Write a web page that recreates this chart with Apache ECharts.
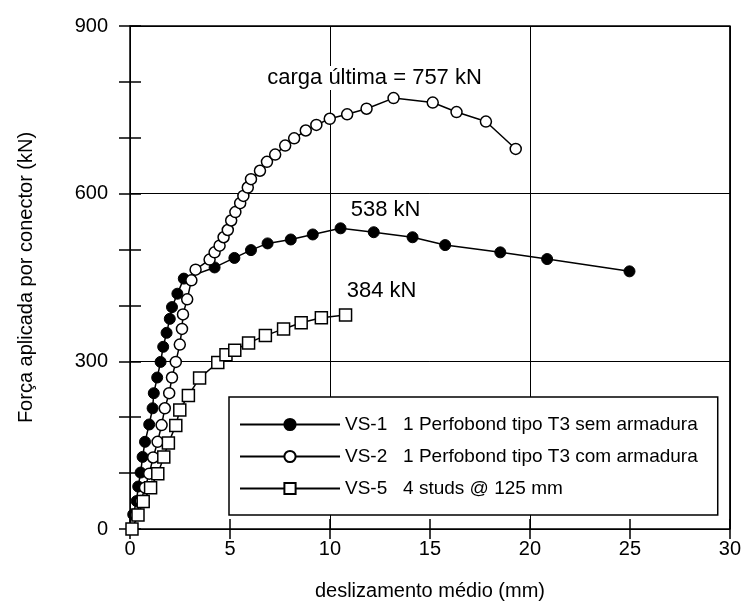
<!DOCTYPE html>
<html>
<head>
<meta charset="utf-8">
<script src="https://cdn.jsdelivr.net/npm/echarts@6/dist/echarts.min.js"></script>
<style>
html,body{margin:0;padding:0;background:#fff;}
#c{width:744px;height:612px;}
</style>
</head>
<body>
<div id="c"></div>
<script>
// Slip (mm) and load (kN)
const vs1Slip = [0.16,0.33,0.41,0.53,0.63,0.75,0.96,1.13,1.19,1.36,1.53,1.66,1.83,1.99,2.10,2.37,2.69,4.23,5.22,6.05,6.88,8.04,9.14,10.53,12.19,14.13,15.76,18.52,20.86,24.98];
const vs1Load = [26,50,76,101,129,156,187,216,243,271,299,326,351,376,397,421,448,468,485,499,511,518,527,538,531,522,508,495,483,461];

const vs2Slip = [0.30,0.55,0.75,0.96,1.16,1.38,1.58,1.74,1.96,2.10,2.29,2.49,2.60,2.65,2.86,3.07,3.28,3.98,4.23,4.48,4.68,4.89,5.06,5.27,5.51,5.67,5.89,6.05,6.50,6.85,7.26,7.76,8.21,8.79,9.32,9.99,10.86,11.83,13.18,15.14,16.33,17.80,19.29];
const vs2Load = [25,50,74,99,128,156,186,216,243,271,299,330,358,384,411,445,464,482,495,507,522,535,552,567,583,596,611,626,641,657,670,686,699,713,723,734,742,752,771,763,746,729,680];

const vs5Slip = [0.10,0.40,0.66,1.03,1.39,1.69,1.92,2.29,2.49,2.92,3.48,4.39,4.80,5.24,5.93,6.77,7.68,8.56,9.57,10.78];
const vs5Load = [0,25,49,74,99,129,154,185,213,239,270,298,312,320,333,346,358,369,378,383];

const seriesNames = ['VS-1','VS-2','VS-5'];
const legendTexts = {
  'VS-1':'VS-1   1 Perfobond tipo T3 sem armadura',
  'VS-2':'VS-2   1 Perfobond tipo T3 com armadura',
  'VS-5':'VS-5   4 studs @ 125 mm'
};
const annotations = ['538 kN','carga última = 757 kN','384 kN'];
const xTitle = 'deslizamento médio (mm)';
const yTitle = 'Força aplicada por conector (kN)';

const pairs = (xs, ys) => xs.map((x,i)=>[x, ys[i]]);
const peakIndex = ys => ys.indexOf(Math.max(...ys));

const FONT = '"Liberation Sans", Arial, sans-serif';
const baseY = {type:'value', min:0, max:900, gridIndex:0};
const baseX = {type:'value', min:0, max:30, gridIndex:0};

const chart = echarts.init(document.getElementById('c'), null, {renderer:'canvas'});
const v1 = pairs(vs1Slip, vs1Load), v2 = pairs(vs2Slip, vs2Load), v5 = pairs(vs5Slip, vs5Load);

function mk(coord, text, offset, bg){
  return {
    silent:true, animation:false,
    symbol:'circle', symbolSize:1,
    itemStyle:{color:'rgba(0,0,0,0)', borderWidth:0},
    label:{show:true, formatter:text, color:'#000', fontSize:22, fontFamily:FONT, position:'inside', offset:offset,
      backgroundColor:bg ? '#fff' : 'transparent', padding:bg ? [0,0,2,0] : 0},
    data:[{coord:coord}]
  };
}

chart.setOption({
  animation:false,
  backgroundColor:'#fff',
  grid:{left:130, right:11, top:26, bottom:83, show:true, borderColor:'#000', borderWidth:1.5, backgroundColor:'transparent'},
  xAxis:[
    Object.assign({}, baseX, {interval:5, position:'bottom',
      axisLine:{show:false}, axisTick:{show:true, inside:false, length:10, lineStyle:{color:'#000', width:1.5}},
      axisLabel:{color:'#000', fontSize:20, fontFamily:FONT, margin:10},
      splitLine:{show:false},
      name:xTitle, nameLocation:'middle', nameGap:52, nameTextStyle:{color:'#000', fontSize:20, fontFamily:FONT}}),
    Object.assign({}, baseX, {interval:5, position:'bottom',
      axisLine:{show:false}, axisTick:{show:true, inside:true, length:10, lineStyle:{color:'#000', width:1.5}},
      axisLabel:{show:false}, splitLine:{show:false}}),
    Object.assign({}, baseX, {interval:10, position:'bottom',
      axisLine:{show:false}, axisTick:{show:false}, axisLabel:{show:false},
      splitLine:{show:true, lineStyle:{color:'#000', width:1}}})
  ],
  yAxis:[
    Object.assign({}, baseY, {interval:100, position:'left',
      axisLine:{show:false}, axisTick:{show:true, inside:false, length:11, lineStyle:{color:'#000', width:1.5}},
      axisLabel:{color:'#000', fontSize:20, fontFamily:FONT, margin:22, formatter:v => (v % 300 === 0 ? String(v) : '')},
      splitLine:{show:false},
      name:yTitle, nameLocation:'middle', nameGap:94, nameTextStyle:{color:'#000', fontSize:20, fontFamily:FONT}}),
    Object.assign({}, baseY, {interval:100, position:'left',
      axisLine:{show:false}, axisTick:{show:true, inside:true, length:11, lineStyle:{color:'#000', width:1.5}},
      axisLabel:{show:false}, splitLine:{show:false}}),
    Object.assign({}, baseY, {interval:300, position:'left',
      axisLine:{show:false}, axisTick:{show:false}, axisLabel:{show:false},
      splitLine:{show:true, lineStyle:{color:'#000', width:1}}})
  ],
  legend:{
    orient:'vertical', left:229, top:397,
    padding:[18,20,17,10], itemGap:13, itemWidth:100, itemHeight:14,
    borderColor:'#000', borderWidth:1.5, backgroundColor:'#fff',
    textStyle:{color:'#000', fontSize:19, fontFamily:FONT},
    formatter:n => legendTexts[n],
    data:seriesNames
  },
  series:[
    {name:seriesNames[0], type:'line', data:v1, symbol:'circle', symbolSize:11,
      lineStyle:{color:'#000', width:1.5}, itemStyle:{color:'#000', borderColor:'#000', borderWidth:1},
      markPoint:mk(v1[peakIndex(vs1Load)], annotations[0], [45,-18], false)},
    {name:seriesNames[1], type:'line', data:v2, symbol:'circle', symbolSize:11,
      lineStyle:{color:'#000', width:1.5}, itemStyle:{color:'#fff', borderColor:'#000', borderWidth:1.5},
      markPoint:mk(v2[peakIndex(vs2Load)], annotations[1], [-19,-20], true)},
    {name:seriesNames[2], type:'line', data:v5, symbol:'rect', symbolSize:12,
      lineStyle:{color:'#000', width:1.5}, itemStyle:{color:'#fff', borderColor:'#000', borderWidth:1.5},
      markPoint:mk(v5[v5.length-1], annotations[2], [36,-24], false)}
  ]
});
</script>
</body>
</html>
